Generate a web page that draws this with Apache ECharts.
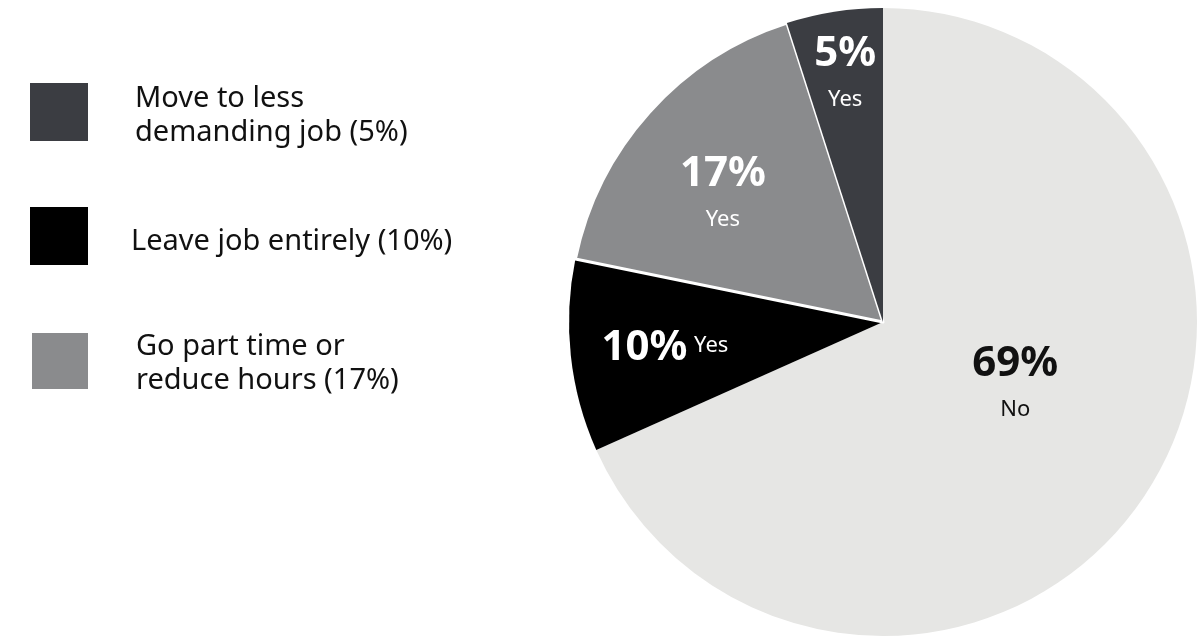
<!DOCTYPE html>
<html>
<head>
<meta charset="utf-8">
<script src="https://cdn.jsdelivr.net/npm/echarts@6/dist/echarts.min.js"></script>
<style>
  html, body { margin: 0; padding: 0; background: #fff; }
  #chart { width: 1202px; height: 636px; }
</style>
</head>
<body>
<div id="chart"></div>
<script>
// Slices in clockwise order from 12 o'clock
const categories = ['No', 'Leave job entirely', 'Go part time or reduce hours', 'Move to less demanding job'];
const values = [69, 10, 17, 5];
const answers = ['No', 'Yes', 'Yes', 'Yes'];
// Legend entries (the "Yes" options only)
const legendNames = ['Move to less demanding job', 'Leave job entirely', 'Go part time or reduce hours'];
const legendLines = {
  'Move to less demanding job': ['Move to less', 'demanding job (5%)'],
  'Leave job entirely': ['Leave job entirely (10%)'],
  'Go part time or reduce hours': ['Go part time or', 'reduce hours (17%)']
};

const colors = ['#e6e6e4', '#000000', '#8a8b8d', '#3b3d42'];
const labelColors = ['#111111', '#ffffff', '#ffffff', '#ffffff'];
// label nudges from the default inside position, per slice
const labelNudge = [[-2, -27], [-59, 9], [-41, -23], [-13, -92]];

// legend block layout: top of each block, text indent, first-line spacer height
const legendTops = [83, 207, 331];
const legendIndent = [42, 38, 42];
const legendSpacer = [36, 40, 34];

const FONT = '"Noto Sans", "Open Sans", sans-serif';

const chart = echarts.init(document.getElementById('chart'), null, { renderer: 'canvas' });

const data = categories.map((name, i) => ({
  name: name,
  value: values[i],
  itemStyle: i === 2
    ? { color: colors[i], borderColor: '#ffffff', borderWidth: 3 }
    : { color: colors[i], borderWidth: 0 },
  label: {
    color: labelColors[i],
    formatter: i === 1
      ? '{p|' + values[i] + '%}  {n|' + answers[i] + '}'
      : '{p|' + values[i] + '%}\n{n|' + answers[i] + '}',
    rich: {
      p: { fontFamily: FONT, fontWeight: 'bold', fontSize: 42, color: labelColors[i], lineHeight: i === 1 ? 46 : 56 },
      n: { fontFamily: FONT, fontSize: 22, color: labelColors[i], lineHeight: i === 1 ? 46 : 36, padding: i === 1 ? [0, 0, 6, 0] : 0 }
    }
  }
}));

// Legend text: a thin spacer on the first line sets the text a little below the swatch centre
function legendFormatter(name) {
  return legendLines[name].map((l, k) => (k === 0 ? '{s|\u200b}' : '') + '{t|' + l + '}').join('\n');
}

const legends = legendNames.map((name, k) => ({
  orient: 'vertical',
  left: 30,
  top: legendTops[k],
  padding: 0,
  itemWidth: 58,
  itemHeight: 58,
  icon: 'rect',
  selectedMode: false,
  data: [name],
  formatter: legendFormatter,
  textStyle: {
    fontFamily: FONT,
    fontSize: 29,
    color: '#111111',
    padding: [0, 0, 0, legendIndent[k]],
    rich: {
      t: { fontFamily: FONT, fontSize: 29, lineHeight: 34, color: '#111111', verticalAlign: 'bottom' },
      s: { fontFamily: FONT, fontSize: 1, lineHeight: legendSpacer[k] }
    }
  }
}));

chart.setOption({
  animation: false,
  backgroundColor: '#ffffff',
  legend: legends,
  series: [{
    type: 'pie',
    center: [883, 322],
    radius: [0, 314],
    startAngle: 90,
    clockwise: true,
    avoidLabelOverlap: false,
    label: { show: true, position: 'inside', align: 'center' },
    labelLine: { show: false },
    emphasis: { disabled: true },
    labelLayout: params => ({ dx: labelNudge[params.dataIndex][0], dy: labelNudge[params.dataIndex][1] }),
    data: data
  }]
});
</script>
</body>
</html>
